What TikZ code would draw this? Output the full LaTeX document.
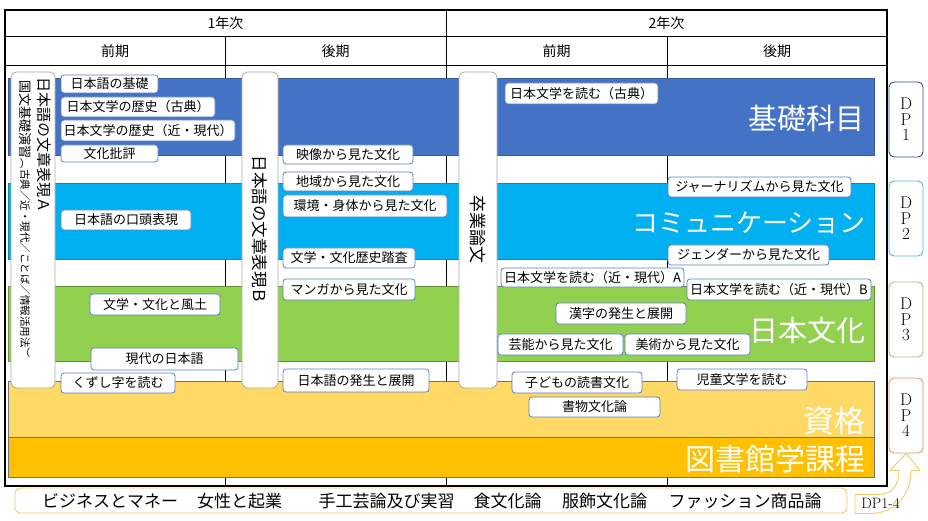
\documentclass[tikz,border=0pt]{standalone}
\usepackage{fontspec}
\newfontfamily\jp{Noto Sans CJK JP}
\newfontfamily\tate[Vertical=RotatedGlyphs]{Noto Sans CJK JP}
\usetikzlibrary{positioning}
\definecolor{kblue}{HTML}{4472C4}
\definecolor{ccyan}{HTML}{00B0F0}
\definecolor{ngreen}{HTML}{92D050}
\definecolor{syellow}{HTML}{FFD966}
\definecolor{torange}{HTML}{FFC000}
\definecolor{cbord}{HTML}{5A7FC4}
\definecolor{tgray}{HTML}{ABABAB}
\definecolor{dpone}{HTML}{2F4C8A}
\definecolor{dptwo}{HTML}{4DB6E0}
\definecolor{dpthree}{HTML}{9DC183}
\definecolor{dpfour}{HTML}{E0976A}
\definecolor{gold}{HTML}{F3C866}

\tikzset{
  bandlabel/.style={anchor=east, inner sep=0pt, text=white, font=\jp\fontsize{29}{29}\selectfont},
  course/.style={draw=cbord, fill=white, rounded corners=3pt, line width=0.8pt, inner sep=0pt, font=\jp\fontsize{13}{13}\selectfont},
  tall/.style={draw=tgray, fill=white, rounded corners=6pt, line width=0.8pt, inner sep=0pt},
  tatetext/.style={rotate=-90, anchor=west, inner sep=0pt},
  dpbox/.style={fill=white, rounded corners=5pt, line width=0.9pt, minimum width=34, minimum height=75, inner sep=0pt, align=center, font=\fontsize{17}{15.5}\selectfont},
  head/.style={font=\jp\fontsize{14}{14}\selectfont},
  extra/.style={font=\jp\fontsize{17}{17}\selectfont, inner sep=0pt}
}

\begin{document}
\begin{tikzpicture}[x=1pt,y=-1pt]
    \useasboundingbox (0,0) rectangle (928,521);

    \draw [line width=1.2pt] (5,10) rectangle (887,486);
    \draw [line width=1pt] (5,37) -- (887,37);
    \draw [line width=1pt] (5,66) -- (887,66);
    \draw [line width=1pt] (446,10) -- (446,486);
    \draw [line width=1pt] (225,37) -- (225,486);
    \draw [line width=1pt] (667,37) -- (667,486);

    \node [head] (nen1) at (225.5,23.5) {1年次};
    \node [head] (nen2) at (666.5,23.5) {2年次};
    \node [head] (zen1) at (115,51.5) {前期};
    \node [head] (kou1) at (335.5,51.5) {後期};
    \node [head] (zen2) at (556.5,51.5) {前期};
    \node [head] (kou2) at (777,51.5) {後期};

    \draw [fill=kblue, draw=kblue!80!black, line width=0.5pt] (8,78) rectangle (874,155);
    \draw [fill=ccyan, draw=ccyan!80!black, line width=0.5pt] (8,183) rectangle (874,259);
    \draw [fill=ngreen, draw=ngreen!70!black, line width=0.5pt] (8,286) rectangle (874,361);
    \draw [fill=syellow, draw=black!55, line width=0.5pt] (8,381) rectangle (874,437);
    \node [bandlabel] (kiso) at (865,118.5) {基礎科目};
    \node [bandlabel, font=\jp\fontsize{26}{26}\selectfont] (comm) at (866,223) {コミュニケーション};
    \node [bandlabel] (nihon) at (866,330) {日本文化};
    \node [bandlabel, font=\jp\fontsize{31}{31}\selectfont] (shikaku) at (866,421) {資格};
    \draw [fill=torange, draw=black!55, line width=0.5pt] (8,437) rectangle (874,477);
    \node [bandlabel, font=\jp\fontsize{30}{30}\selectfont] (tosho) at (866,459) {図書館学課程};

    \node [tall, minimum width=44, minimum height=316] (tallA) at (33,230) {};
    \node [tatetext, font=\tate\fontsize{15}{15}\selectfont] (bunshoA) at (44.5,77) {日本語の文章表現Ａ};
    \node [tatetext, font=\tate\fontsize{13}{13}\selectfont] (kokubun) at (25,80) {国文基礎演習};
    \node [tatetext, font=\tate\fontsize{10.5}{10.5}\selectfont] (kakko) at (kokubun.east) {（古典／近・現代／ことば／情報活用法）};
    \node [tall, rotate=-90, minimum width=316, minimum height=36, font=\tate\fontsize{16.5}{16.5}\selectfont] (bunshoB) at (260,230) {日本語の文章表現Ｂ};
    \node [tall, rotate=-90, minimum width=316, minimum height=38, font=\tate\fontsize{17}{17}\selectfont] (sotsuron) at (478,230) {卒業論文};

    \node [course, minimum width=97, minimum height=18] (nkiso) at (109.5,84) {日本語の基礎};
    \node [course, minimum width=154, minimum height=20] (rekiK) at (138,107) {日本文学の歴史（古典）};
    \node [course, minimum width=174, minimum height=21] (rekiG) at (148,130.5) {日本文学の歴史（近・現代）};
    \node [course, minimum width=97, minimum height=17] (hihyo) at (109.5,153.5) {文化批評};
    \node [course, minimum width=130, minimum height=20] (koto) at (126,220) {日本語の口頭表現};
    \node [course, minimum width=130, minimum height=21] (fudo) at (155,304.5) {文学・文化と風土};
    \node [course, minimum width=147, minimum height=22] (gendai) at (164.5,359) {現代の日本語};
    \node [course, minimum width=114, minimum height=20] (kuzushi) at (118,383) {くずし字を読む};
    \node [course, minimum width=130, minimum height=19] (eizo) at (348,154.5) {映像から見た文化};
    \node [course, minimum width=130, minimum height=19] (chiiki) at (348,181.5) {地域から見た文化};
    \node [course, minimum width=164, minimum height=22] (kankyo) at (365,206) {環境・身体から見た文化};
    \node [course, minimum width=132, minimum height=20] (tosa) at (349,258) {文学・文化歴史踏査};
    \node [course, minimum width=132, minimum height=21] (manga) at (349,289.5) {マンガから見た文化};
    \node [course, minimum width=146, minimum height=23] (hassei) at (356,380.5) {日本語の発生と展開};
    \node [course, minimum width=153, minimum height=21] (yomuK) at (581.5,93.5) {日本文学を読む（古典）};
    \node [course, minimum width=183, minimum height=20] (journal) at (759.5,187) {ジャーナリズムから見た文化};
    \node [course, minimum width=161, minimum height=20] (gender) at (748.5,255) {ジェンダーから見た文化};
    \node [course, minimum width=183, minimum height=19] (yomuA) at (592.5,277.5) {日本文学を読む（近・現代）A};
    \node [course, minimum width=184, minimum height=21] (yomuB) at (779,289.5) {日本文学を読む（近・現代）B};
    \node [course, minimum width=130, minimum height=21] (kanji) at (621,313.5) {漢字の発生と展開};
    \node [course, minimum width=125, minimum height=21] (geino) at (560.5,344.5) {芸能から見た文化};
    \node [course, minimum width=125, minimum height=21] (bijutsu) at (687.5,344.5) {美術から見た文化};
    \node [course, minimum width=130, minimum height=21] (kodomo) at (577,382.5) {子どもの読書文化};
    \node [course, minimum width=131, minimum height=20] (shomotsu) at (594.5,407) {書物文化論};
    \node [course, minimum width=130, minimum height=21] (jido) at (742,379.5) {児童文学を読む};

    \node [dpbox, draw=dpone] (dp1) at (906,119.5) {D\\P\\1};
    \node [dpbox, draw=dptwo] (dp2) at (906,218.5) {D\\P\\2};
    \node [dpbox, draw=dpthree] (dp3) at (906,319.5) {D\\P\\3};
    \node [dpbox, draw=dpfour] (dp4) at (906,415.5) {D\\P\\4};

    \node [draw=gold, rounded corners=5pt, line width=0.9pt, minimum width=832, minimum height=25] (others) at (431,500.5) {};
    \node [extra] (biz) at (110,501) {ビジネスとマネー};
    \node [extra] (josei) at (239.5,501) {女性と起業};
    \node [extra] (shukou) at (386.5,501) {手工芸論及び実習};
    \node [extra] (shoku) at (507.5,501) {食文化論};
    \node [extra] (fukushoku) at (604.5,501) {服飾文化論};
    \node [extra] (fashion) at (745,501) {ファッション商品論};

    \draw [gold, line width=0.9pt, line join=round, shift={(dp4.south)}]
        (-51,41) -- (-28,41) .. controls (-14,41) and (-7,32) .. (-7,17) -- (-16,17) -- (0,0)
        -- (14,17) -- (5,17) .. controls (5,42) and (-11,60) .. (-36,60) -- (-51,60) -- cycle;
    \node [inner sep=0pt, font=\fontsize{15}{15}\selectfont] (dpall) at (880.5,503) {DP1-4};
\end{tikzpicture}
\end{document}
